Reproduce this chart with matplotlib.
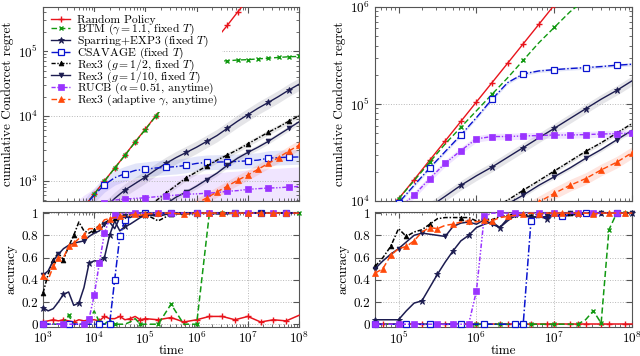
# Regret- und Accuracy-Kurven fuer zwei Experimente (links / rechts).
import matplotlib
matplotlib.use("Agg")
import matplotlib.pyplot as plt  # noqa: E402
from matplotlib.ticker import LogLocator, NullFormatter, FuncFormatter  # noqa: E402

plt.rcParams["font.family"] = "cmr10"
plt.rcParams["mathtext.fontset"] = "cm"
plt.rcParams["axes.formatter.use_mathtext"] = True

# region daten
methoden = ["random", "btm", "sparring", "csavage", "rex3_half", "rex3_tenth", "rucb", "adaptive"]
labels = [
    "Random Policy",
    r"BTM ($\gamma = 1.1$, fixed $T$)",
    r"Sparring+EXP3 (fixed $T$)",
    r"CSAVAGE (fixed $T$)",
    r"Rex3 ($g = 1/2$, fixed $T$)",
    r"Rex3 ($g = 1/10$, fixed $T$)",
    r"RUCB ($\alpha = 0.51$, anytime)",
    r"Rex3 (adaptive $\gamma$, anytime)",
]

# Zeitachse oben links (log10 t)
exp_regret_links = [3.0, 3.2, 3.4, 3.6, 3.8, 4.0, 4.2, 4.4, 4.6, 4.8, 5.0, 5.2, 5.4,
                    5.6, 5.8, 6.0, 6.2, 6.4, 6.6, 6.8, 7.0, 7.2, 7.4, 7.6, 7.8, 8.0]
regret_links_random = [63, 100, 158, 250, 400, 630, 1000, 1580, 2500, 4000, 6300, 1.0e4, 1.6e4,
                       2.5e4, 4.0e4, 6.3e4, 1.0e5, 1.6e5, 2.5e5, 4.0e5, 6.3e5, 1.0e6, 1.6e6, 2.5e6, 4.0e6, 6.3e6]
regret_links_btm = [63, 100, 158, 250, 395, 625, 990, 1570, 2480, 3950, 6200, 9900, 1.57e4,
                    2.47e4, 3.9e4, 6.0e4, 6.8e4, 7.0e4, 7.1e4, 7.3e4, 7.4e4, 7.6e4, 7.8e4, 8.0e4, 8.2e4, 8.3e4]
regret_links_sparring = [50, 72, 100, 140, 195, 270, 380, 537, 724, 912, 1150, 1480, 1860,
                         2290, 2750, 3310, 4070, 5010, 6460, 8320, 10500, 13200, 16200, 20000, 25100, 30900]
regret_links_csavage = [63, 100, 158, 251, 398, 603, 871, 1120, 1290, 1450, 1510, 1580, 1620,
                        1660, 1740, 1860, 1930, 1950, 1970, 2000, 2040, 2090, 2240, 2290, 2320, 2340]
regret_links_rex3_half = [23, 30, 40, 52, 69, 91, 120, 158, 209, 275, 363, 490, 646,
                          851, 1120, 1380, 1700, 2090, 2510, 3020, 3720, 4570, 5620, 6760, 8320, 10000]
regret_links_rex3_tenth = [25, 32, 40, 51, 65, 83, 105, 135, 170, 219, 275, 347, 442,
                           562, 676, 832, 1050, 1320, 1740, 2240, 2750, 3310, 4070, 5130, 6460, 8130]
regret_links_rucb = [63, 100, 158, 224, 302, 380, 457, 507, 525, 537, 550, 569, 589,
                     603, 624, 631, 646, 661, 692, 708, 741, 759, 776, 785, 804, 822]
regret_links_adaptive = [20, 25, 30, 37, 46, 56, 69, 85, 105, 129, 158, 195, 240,
                         295, 363, 447, 550, 676, 832, 1020, 1230, 1510, 1860, 2290, 2880, 3550]

exp_regret_rechts = [4.6, 4.8, 5.0, 5.2, 5.4, 5.6, 5.8, 6.0, 6.2, 6.4, 6.6, 6.8, 7.0, 7.2, 7.4, 7.6, 7.8, 8.0]
regret_rechts_random = [4170, 6610, 1.05e4, 1.66e4, 2.63e4, 4.17e4, 6.61e4, 1.05e5, 1.66e5,
                        2.63e5, 4.17e5, 6.61e5, 1.05e6, 1.66e6, 2.63e6, 4.17e6, 6.61e6, 1.05e7]
regret_rechts_btm = [4170, 6610, 1.05e4, 1.62e4, 2.51e4, 3.89e4, 5.75e4, 8.51e4, 1.26e5,
                     1.86e5, 2.82e5, 4.27e5, 6.17e5, 8.91e5, 1.2e6, 1.62e6, 2.14e6, 2.24e6]
regret_rechts_sparring = [3160, 4070, 5250, 6760, 8710, 1.12e4, 1.45e4, 1.82e4, 2.24e4,
                          2.82e4, 3.55e4, 4.47e4, 5.62e4, 7.08e4, 8.91e4, 1.12e5, 1.38e5, 1.74e5]
regret_rechts_csavage = [4170, 6310, 9550, 1.45e4, 2.19e4, 3.24e4, 4.79e4, 7.24e4, 1.12e5,
                         1.66e5, 2.04e5, 2.19e5, 2.26e5, 2.32e5, 2.37e5, 2.43e5, 2.51e5, 2.57e5]
regret_rechts_rex3_half = [1320, 1660, 2090, 2630, 3310, 4170, 5250, 6610, 8320,
                           1.02e4, 1.29e4, 1.62e4, 2.04e4, 2.57e4, 3.24e4, 3.98e4, 5.01e4, 6.31e4]
regret_rechts_rex3_tenth = [1320, 1620, 2000, 2510, 3090, 3890, 4790, 6030, 7410,
                            9330, 1.15e4, 1.45e4, 1.78e4, 2.19e4, 2.75e4, 3.39e4, 4.27e4, 5.37e4]
regret_rechts_rucb = [4170, 5890, 8320, 1.15e4, 1.7e4, 2.45e4, 3.31e4, 4.37e4, 4.62e4,
                      4.62e4, 4.68e4, 4.73e4, 4.79e4, 4.79e4, 4.84e4, 4.9e4, 4.95e4, 5.01e4]
regret_rechts_adaptive = [1120, 1350, 1620, 1950, 2340, 2820, 3390, 4070, 5010,
                          6310, 7940, 9770, 1.2e4, 1.45e4, 1.7e4, 2.09e4, 2.51e4, 3.16e4]

# Streuband (multiplikativ) je Methode
streuung_links = [1.0, 1.0, 1.25, 1.3, 1.1, 1.1, 2.0, 1.2]
streuung_rechts = [1.0, 1.0, 1.12, 1.04, 1.05, 1.05, 1.08, 1.15]

exp_acc_links = [3.0, 3.1, 3.2, 3.3, 3.4, 3.5, 3.6, 3.7, 3.8, 3.9, 4.0, 4.1, 4.2, 4.3, 4.4, 4.5,
                 4.6, 4.7, 4.8, 4.9, 5.0, 5.25, 5.5, 5.75, 6.0, 6.25, 6.5, 6.75, 7.0, 7.25, 7.5, 7.75, 8.0]
acc_links_random = [0.02, 0.03, 0.04, 0.03, 0.04, 0.03, 0.02, 0.04, 0.03, 0.04, 0.04, 0.03, 0.07,
                    0.05, 0.05, 0.07, 0.04, 0.05, 0.07, 0.04, 0.05, 0.04, 0.06, 0.02, 0.04, 0.07,
                    0.07, 0.04, 0.07, 0.02, 0.04, 0.03, 0.08]
acc_links_btm = [0, 0, 0, 0, 0.02, 0.08, 0, 0, 0, 0.03, 0.12, 0.02, 0, 0.04, 0, 0, 0, 0.02, 0.05,
                 0, 0, 0, 0.18, 0, 0, 1, 1, 1, 1, 1, 1, 1, 1]
acc_links_sparring = [0.15, 0.12, 0.14, 0.2, 0.27, 0.29, 0.17, 0.19, 0.33, 0.55, 0.57, 0.57, 0.6,
                      0.8, 0.93, 0.84, 0.88, 0.9, 0.93, 0.96, 0.98, 0.99, 1, 0.99, 1, 1, 1, 1, 1,
                      1, 1, 1, 1]
acc_links_csavage = [0, 0, 0, 0, 0, 0, 0, 0, 0, 0, 0, 0, 0, 0, 0.4, 0.79, 0.94, 0.99, 1, 1, 1,
                     1, 1, 1, 1, 1, 1, 1, 1, 1, 1, 1, 1]
acc_links_rex3_half = [0.28, 0.45, 0.58, 0.64, 0.58, 0.7, 0.8, 0.92, 0.84, 0.82, 0.85, 0.89, 0.91,
                       0.94, 0.96, 0.98, 0.98, 0.97, 0.98, 0.97, 0.99, 0.93, 0.99, 1, 1, 0.99, 1,
                       1, 1, 1, 1, 1, 1]
acc_links_rex3_tenth = [0.44, 0.48, 0.57, 0.63, 0.68, 0.71, 0.73, 0.74, 0.75, 0.79, 0.82, 0.84,
                        0.9, 0.92, 0.86, 0.96, 0.97, 0.96, 0.98, 0.97, 0.99, 0.97, 1, 1, 1, 1,
                        0.99, 1, 1, 1, 1, 1, 1]
acc_links_rucb = [0, 0, 0, 0, 0, 0, 0, 0, 0, 0.05, 0.26, 0.55, 0.82, 0.95, 0.98, 0.99, 1, 1, 1,
                  1, 1, 1, 1, 1, 1, 1, 1, 1, 1, 1, 1, 1, 1]
acc_links_adaptive = [0.43, 0.4, 0.52, 0.6, 0.6, 0.7, 0.73, 0.77, 0.8, 0.86, 0.86, 0.88, 0.94,
                      0.95, 0.96, 0.97, 0.97, 0.98, 0.99, 0.98, 0.99, 1, 1, 0.99, 1, 1, 1, 1, 1,
                      1, 1, 1, 1]

exp_acc_rechts = [4.7, 4.8, 4.9, 5.0, 5.1, 5.2, 5.3, 5.4, 5.5, 5.6, 5.7, 5.8, 5.9, 6.0, 6.1,
                  6.2, 6.3, 6.4, 6.5, 6.6, 6.7, 6.8, 6.9, 7.0, 7.1, 7.2, 7.3, 7.4, 7.5, 7.6,
                  7.7, 7.8, 7.9, 8.0]
acc_rechts_random = [0, 0, 0, 0, 0, 0, 0, 0, 0, 0, 0, 0, 0, 0, 0, 0, 0, 0, 0, 0, 0, 0, 0, 0, 0,
                     0, 0, 0, 0, 0, 0, 0, 0, 0]
acc_rechts_btm = [0, 0, 0, 0, 0, 0, 0, 0, 0, 0, 0, 0, 0, 0, 0, 0, 0, 0, 0, 0, 0, 0, 0, 0, 0,
                  0, 0, 0.04, 0.12, 0.01, 0.85, 1, 1, 1]
acc_rechts_sparring = [0.04, 0.04, 0.04, 0.04, 0.12, 0.19, 0.21, 0.33, 0.45, 0.56, 0.66, 0.75,
                       0.8, 0.87, 0.9, 0.92, 0.87, 0.95, 0.99, 0.98, 0.96, 0.97, 0.95, 0.98, 0.97,
                       0.98, 0.99, 0.99, 1, 1, 1, 1, 1, 1]
acc_rechts_csavage = [0, 0, 0, 0, 0, 0, 0, 0, 0, 0, 0, 0, 0, 0, 0, 0, 0, 0, 0, 0, 0.93, 0.97,
                      0.96, 0.98, 0.97, 0.99, 1, 1, 1, 1, 1, 1, 1, 1]
acc_rechts_rex3_half = [0.52, 0.6, 0.7, 0.86, 0.79, 0.83, 0.85, 0.9, 0.95, 0.96, 0.96, 0.96, 0.96,
                        0.93, 0.95, 0.94, 0.97, 0.98, 0.99, 0.99, 0.98, 0.99, 1, 1, 0.99, 1, 1,
                        1, 1, 1, 1, 1, 1, 1]
acc_rechts_rex3_tenth = [0.5, 0.57, 0.63, 0.68, 0.74, 0.8, 0.82, 0.81, 0.8, 0.79, 0.88, 0.91,
                         0.92, 0.9, 0.94, 0.9, 0.87, 0.93, 0.98, 0.98, 0.97, 0.96, 0.97, 0.99, 1,
                         1, 0.99, 1, 1, 1, 1, 1, 1, 1]
acc_rechts_rucb = [0, 0, 0, 0, 0, 0, 0, 0, 0, 0, 0, 0, 0, 0.3, 0.97, 1, 1, 1, 1, 1, 1, 1, 1, 1,
                   1, 1, 1, 1, 1, 1, 1, 1, 1, 1]
acc_rechts_adaptive = [0.46, 0.5, 0.62, 0.68, 0.7, 0.75, 0.83, 0.87, 0.86, 0.89, 0.9, 0.92, 0.93,
                       0.92, 0.94, 0.93, 0.96, 0.97, 0.98, 0.99, 1, 0.99, 1, 1, 1, 1, 1, 1, 0.99,
                       1, 1, 1, 1, 1]
# endregion

# region stil
NAVY = "#1c1c50"
STIL = {
    "random": dict(color="#e8141c", ls="-", marker="+", ms=5, mew=1.0),
    "btm": dict(color="#119911", ls=(0, (4, 2)), marker="x", ms=3, mew=1.0),
    "sparring": dict(color=NAVY, ls="-", marker="*", ms=4.5, mew=0.6),
    "csavage": dict(color="#0a14d0", ls=(0, (5, 1.5, 1, 1.5)), marker="s", ms=3.8, mew=0.9,
                    mfc="white"),
    "rex3_half": dict(color="black", ls=(0, (3, 1.2, 1, 1.2)), marker="^", ms=3.5, mew=0.5),
    "rex3_tenth": dict(color=NAVY, ls="-", marker="v", ms=3.5, mew=0.5),
    "rucb": dict(color="#9a33ff", ls=(0, (3, 1.2, 1, 1.2, 1, 1.2)), marker="s", ms=4.2, mew=0.5),
    "adaptive": dict(color="#ff4a0a", ls=(0, (4, 2)), marker="^", ms=4, mew=0.5),
}
BAND = {"random": None, "btm": None, "sparring": "#707080", "csavage": "#6070e0",
        "rex3_half": "#808080", "rex3_tenth": "#808090", "rucb": "#b070ff", "adaptive": "#ff7050"}
MARK_REGRET_LINKS = [1, 1, 2, 2, 2, 2, 2, 1]
MARK_REGRET_RECHTS = [1, 2, 2, 2, 2, 2, 1, 1]
MARK_ACC = [0.04, 0.09, 0.1, 0.1, 0.1, 0.1, 0.07, 0.05]
# endregion


def rahmen(ax):
    for sp in ax.spines.values():
        sp.set_color("#555555")
        sp.set_linewidth(0.8)
    ax.tick_params(which="both", direction="in", top=True, right=True,
                   colors="#555555", labelcolor="black", labelsize=9.5)
    ax.tick_params(which="major", length=4)
    ax.tick_params(which="minor", length=2)
    ax.tick_params(axis="x", pad=2.5)
    ax.set_xscale("log")
    ax.xaxis.set_minor_locator(LogLocator(base=10, subs=range(2, 10), numticks=20))
    ax.xaxis.set_minor_formatter(NullFormatter())


def regret_panel(ax, exps, reihen, streuung, markevery, xlim, ylim):
    t = [10 ** e for e in exps]
    for name, werte, f, me in zip(methoden, reihen, streuung, markevery):
        st = STIL[name]
        if BAND[name] is not None and f > 1.0:
            ax.fill_between(t, [w / f for w in werte], [w * f for w in werte],
                            color=BAND[name], alpha=0.18, lw=0, zorder=1)
        ax.plot(t, werte, lw=1.0, markevery=me, zorder=3, **st)
    rahmen(ax)
    ax.set_yscale("log")
    ax.yaxis.set_minor_locator(LogLocator(base=10, subs=range(2, 10), numticks=20))
    ax.yaxis.set_minor_formatter(NullFormatter())
    ax.set_xlim(*xlim)
    ax.set_ylim(*ylim)
    ax.yaxis.grid(True, which="major", ls=":", color="#b8b8b8", lw=0.7)
    ax.tick_params(axis="x", labelbottom=False)
    ax.set_ylabel("cumulative Condorcet regret", fontsize=9.5, labelpad=3)


def acc_panel(ax, exps, reihen, xlim):
    t = [10 ** e for e in exps]
    for name, werte, me in zip(methoden, reihen, MARK_ACC):
        ax.plot(t, werte, lw=1.1, markevery=me, clip_on=False, zorder=3, **STIL[name])
    rahmen(ax)
    ax.set_xlim(*xlim)
    ax.set_ylim(-0.025, 1.01)
    ax.set_yticks([0, 0.2, 0.4, 0.6, 0.8, 1.0])
    ax.yaxis.set_major_formatter(FuncFormatter(lambda v, _: f"{v:g}"))
    ax.grid(True, which="major", ls=":", color="#b8b8b8", lw=0.7)
    ax.set_xlabel("time", fontsize=9.5, labelpad=-1.5)
    ax.set_ylabel("accuracy", fontsize=9.5, labelpad=3)


fig = plt.figure(figsize=(6.4, 3.56), dpi=100)
ax_rl = fig.add_axes([0.0672, 0.4354, 0.400, 0.545])
ax_al = fig.add_axes([0.0672, 0.0815, 0.400, 0.323])
ax_rr = fig.add_axes([0.5860, 0.4354, 0.402, 0.545])
ax_ar = fig.add_axes([0.5860, 0.0815, 0.402, 0.323])

regret_panel(ax_rl, exp_regret_links,
             [regret_links_random, regret_links_btm, regret_links_sparring, regret_links_csavage,
              regret_links_rex3_half, regret_links_rex3_tenth, regret_links_rucb,
              regret_links_adaptive],
             streuung_links, MARK_REGRET_LINKS, (1e3, 1e8), (490, 4.8e5))
regret_panel(ax_rr, exp_regret_rechts,
             [regret_rechts_random, regret_rechts_btm, regret_rechts_sparring, regret_rechts_csavage,
              regret_rechts_rex3_half, regret_rechts_rex3_tenth, regret_rechts_rucb,
              regret_rechts_adaptive],
             streuung_rechts, MARK_REGRET_RECHTS, (5e4, 1e8), (1e4, 1e6))

acc_panel(ax_al, exp_acc_links,
          [acc_links_random, acc_links_btm, acc_links_sparring, acc_links_csavage,
           acc_links_rex3_half, acc_links_rex3_tenth, acc_links_rucb, acc_links_adaptive],
          (1e3, 1e8))
acc_panel(ax_ar, exp_acc_rechts,
          [acc_rechts_random, acc_rechts_btm, acc_rechts_sparring, acc_rechts_csavage,
           acc_rechts_rex3_half, acc_rechts_rex3_tenth, acc_rechts_rucb, acc_rechts_adaptive],
          (5e4, 1e8))

handles = ax_rl.get_lines()
leg = ax_rl.legend(handles, labels, loc="upper left", fontsize=8.4, frameon=True,
                   framealpha=1.0, edgecolor="none", fancybox=False, handlelength=1.6,
                   handletextpad=0.6, labelspacing=-0.3, borderpad=0.3, borderaxespad=0.4)
leg.set_zorder(10)

fig.savefig("out.png", dpi=100)
